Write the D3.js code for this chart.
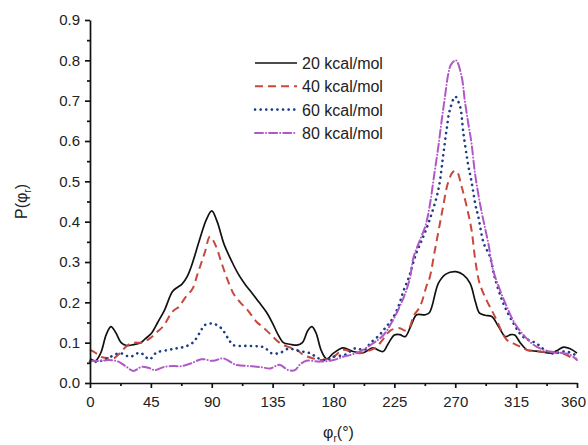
<!DOCTYPE html>
<html>
<head>
<meta charset="utf-8">
<script src="https://cdn.jsdelivr.net/npm/d3@7"></script>
<style>
  body { margin: 0; background: #fff; }
  svg { display: block; font-family: Arial, "Liberation Sans", sans-serif; }
</style>
</head>
<body>
<div id="chart"></div>
<script>
// P(phi_r) distributions [angle, value]
const series20 = [[0,0.06],[4,0.055],[8,0.075],[12,0.12],[15.5,0.14],[19,0.125],[23,0.1],[27,0.093],[32,0.095],[37,0.099],[41,0.11],[45.6,0.124],[50,0.15],[55,0.18],[61,0.227],[65,0.238],[68,0.245],[72,0.265],[75,0.29],[81,0.355],[86,0.405],[90,0.427],[94,0.4],[99,0.345],[105,0.3],[110,0.268],[115,0.243],[120,0.222],[125,0.2],[130.6,0.175],[135,0.148],[139,0.12],[143,0.1],[148,0.096],[153,0.094],[157,0.1],[161,0.13],[164,0.14],[167,0.125],[171,0.08],[175,0.06],[180,0.074],[187,0.087],[194.5,0.078],[202,0.075],[209,0.087],[216.6,0.078],[220,0.095],[225,0.119],[229,0.12],[233,0.115],[237,0.14],[241.5,0.169],[247.6,0.169],[251,0.175],[257.5,0.247],[263,0.27],[270.5,0.276],[276,0.268],[281,0.247],[285,0.2],[288,0.173],[292,0.168],[297,0.165],[302,0.14],[307,0.115],[311,0.12],[314,0.119],[318,0.1],[323,0.082],[327,0.08],[332.6,0.078],[341,0.074],[346,0.082],[350,0.089],[355,0.085],[360,0.074]];
const series40 = [[0,0.082],[4,0.075],[8,0.065],[13,0.062],[18,0.062],[22,0.074],[28,0.094],[33,0.1],[38,0.1],[44,0.11],[49,0.125],[54,0.14],[61,0.177],[66,0.19],[70,0.21],[76,0.235],[79,0.265],[82,0.295],[85,0.325],[88.7,0.363],[93,0.34],[97,0.3],[101,0.262],[106,0.222],[111,0.2],[116,0.183],[123,0.152],[128,0.138],[134,0.119],[140,0.1],[146,0.09],[153,0.082],[157.5,0.07],[164,0.062],[171,0.057],[180,0.065],[187,0.082],[193,0.078],[199.6,0.074],[206,0.08],[212,0.09],[217,0.11],[222,0.13],[229,0.136],[233,0.13],[236.5,0.14],[239,0.165],[244,0.19],[249,0.243],[251,0.26],[255,0.33],[258.7,0.396],[261,0.437],[264.6,0.496],[268.5,0.524],[271,0.525],[274.7,0.487],[278.5,0.437],[282,0.38],[285,0.3],[288,0.247],[293,0.206],[297,0.18],[300.6,0.156],[304,0.13],[308,0.107],[313,0.098],[318,0.09],[323,0.082],[332.6,0.078],[340,0.076],[347,0.074],[352,0.07],[357,0.061],[360,0.06]];
const series60 = [[0,0.053],[6,0.053],[13.5,0.062],[22,0.074],[29.6,0.065],[37,0.075],[44,0.059],[49,0.075],[58,0.082],[64,0.086],[70,0.09],[76,0.1],[81,0.124],[85,0.144],[91,0.147],[97,0.136],[102,0.111],[106,0.094],[114.6,0.092],[124,0.091],[129,0.088],[134,0.074],[140,0.074],[146.6,0.085],[155,0.079],[162.6,0.074],[169,0.061],[175,0.057],[180,0.065],[188.5,0.07],[196,0.086],[203,0.082],[207,0.098],[214,0.119],[219,0.14],[223,0.156],[228,0.19],[231.6,0.227],[236,0.265],[241,0.32],[246,0.36],[251,0.404],[257.5,0.479],[261,0.562],[263.6,0.628],[266,0.677],[270,0.71],[273.5,0.686],[276,0.62],[279.6,0.54],[282,0.5],[285,0.44],[287,0.413],[291,0.347],[295.7,0.313],[299,0.264],[305.5,0.198],[313,0.148],[320,0.115],[330,0.098],[340,0.074],[352,0.078],[358.5,0.07],[360,0.068]];
const series80 = [[0,0.055],[8,0.055],[14,0.057],[21,0.053],[27,0.04],[32,0.03],[38,0.04],[43,0.038],[48,0.032],[55,0.04],[62,0.042],[68,0.042],[75,0.049],[82.5,0.059],[91,0.055],[98.5,0.061],[108,0.045],[118,0.042],[127,0.039],[133,0.036],[140,0.045],[146.6,0.032],[151.5,0.032],[155,0.045],[160,0.055],[170,0.053],[180,0.057],[187,0.065],[193,0.07],[199.6,0.078],[209,0.098],[217,0.119],[224,0.156],[229,0.19],[233,0.222],[236.5,0.26],[239,0.31],[244,0.355],[248,0.39],[251,0.437],[254.6,0.52],[257.5,0.586],[260,0.652],[262.4,0.71],[265,0.769],[267,0.79],[270.5,0.80],[274.7,0.76],[277,0.702],[279.6,0.644],[282,0.595],[284.6,0.52],[288,0.45],[291,0.40],[294.4,0.347],[298,0.28],[303,0.231],[308,0.19],[314,0.148],[321.5,0.115],[330,0.09],[340,0.078],[350,0.074],[355,0.07],[360,0.057]];

const labels = ['20 kcal/mol', '40 kcal/mol', '60 kcal/mol', '80 kcal/mol'];
const xTicks = [0, 45, 90, 135, 180, 225, 270, 315, 360];
const yTicks = [0.0, 0.1, 0.2, 0.3, 0.4, 0.5, 0.6, 0.7, 0.8, 0.9];

const W = 588, H = 445;
const margin = { left: 90, right: 11, top: 20, bottom: 62 };

const styles = [
  { color: '#111111', dash: null, width: 1.7, cap: 'butt' },
  { color: '#c8483c', dash: '8,5', width: 2, cap: 'butt' },
  { color: '#1c3c84', dash: '0.1,5.5', width: 2.6, cap: 'round' },
  { color: '#b058c8', dash: '8,3,0.1,3', width: 2, cap: 'round' }
];

const svg = d3.select('#chart').append('svg')
  .attr('width', W).attr('height', H);

const x = d3.scaleLinear().domain([0, 360]).range([margin.left, W - margin.right]);
const y = d3.scaleLinear().domain([0, 0.9]).range([H - margin.bottom, margin.top]);

// curves
const line = d3.line()
  .x(d => x(d[0]))
  .y(d => y(d[1]))
  .curve(d3.curveCatmullRom.alpha(0.5));

const allSeries = [series20, series40, series60, series80];
const curves = svg.append('g').attr('class', 'curves');
allSeries.forEach((s, i) => {
  curves.append('path')
    .datum(s)
    .attr('d', line)
    .attr('fill', 'none')
    .attr('stroke', styles[i].color)
    .attr('stroke-width', styles[i].width)
    .attr('stroke-linecap', styles[i].cap)
    .attr('stroke-dasharray', styles[i].dash);
});

// axes
const xAxis = svg.append('g')
  .attr('transform', `translate(0,${y(0)})`)
  .call(d3.axisBottom(x).tickValues(xTicks).tickSize(5).tickSizeOuter(0).tickPadding(8).tickFormat(d3.format('d')));
const xMinor = svg.append('g')
  .attr('transform', `translate(0,${y(0)})`)
  .call(d3.axisBottom(x).tickValues(d3.range(22.5, 360, 45)).tickSize(3).tickFormat(''));
xMinor.select('.domain').remove();

const yAxis = svg.append('g')
  .attr('transform', `translate(${x(0)},0)`)
  .call(d3.axisLeft(y).tickValues(yTicks).tickSize(5).tickSizeOuter(0).tickPadding(5).tickFormat(d3.format('.1f')));
const yMinor = svg.append('g')
  .attr('transform', `translate(${x(0)},0)`)
  .call(d3.axisLeft(y).tickValues(d3.range(0.05, 0.9, 0.1)).tickSize(3).tickFormat(''));
yMinor.select('.domain').remove();

[xAxis, yAxis, xMinor, yMinor].forEach(g => {
  g.selectAll('path, line').attr('stroke', '#111').attr('stroke-width', 1.7);
  g.selectAll('text').attr('font-size', 15).attr('fill', '#222');
});
// last label sits at the right edge, keep it inside
xAxis.selectAll('.tick text').filter(d => d === 360).attr('dx', -4);

// axis titles
const yTitle = svg.append('text')
  .attr('transform', `translate(27,${(y(0) + y(0.9)) / 2}) rotate(-90)`)
  .attr('text-anchor', 'middle')
  .attr('font-size', 16).attr('fill', '#222');
yTitle.append('tspan').text('P(\u03c6');
yTitle.append('tspan').attr('font-size', 10).attr('dy', 4).text('r');
yTitle.append('tspan').attr('dy', -4).text(')');

const xTitle = svg.append('text')
  .attr('x', x(180) + 5).attr('y', 438)
  .attr('text-anchor', 'middle')
  .attr('font-size', 16).attr('fill', '#222');
xTitle.append('tspan').text('\u03c6');
xTitle.append('tspan').attr('font-size', 10).attr('dy', 4).text('r');
xTitle.append('tspan').attr('dy', -4).text('(\u00b0)');

// legend
const legend = svg.append('g').attr('transform', 'translate(255,63)');
labels.forEach((lab, i) => {
  const row = legend.append('g').attr('transform', `translate(0,${i * 23.3})`);
  row.append('line')
    .attr('x1', 0).attr('x2', 42).attr('y1', 0).attr('y2', 0)
    .attr('stroke', styles[i].color)
    .attr('stroke-width', styles[i].width)
    .attr('stroke-linecap', styles[i].cap)
    .attr('stroke-dasharray', styles[i].dash);
  row.append('text')
    .attr('x', 47).attr('y', 6)
    .attr('font-size', 16).attr('fill', '#222')
    .text(lab);
});
</script>
</body>
</html>
